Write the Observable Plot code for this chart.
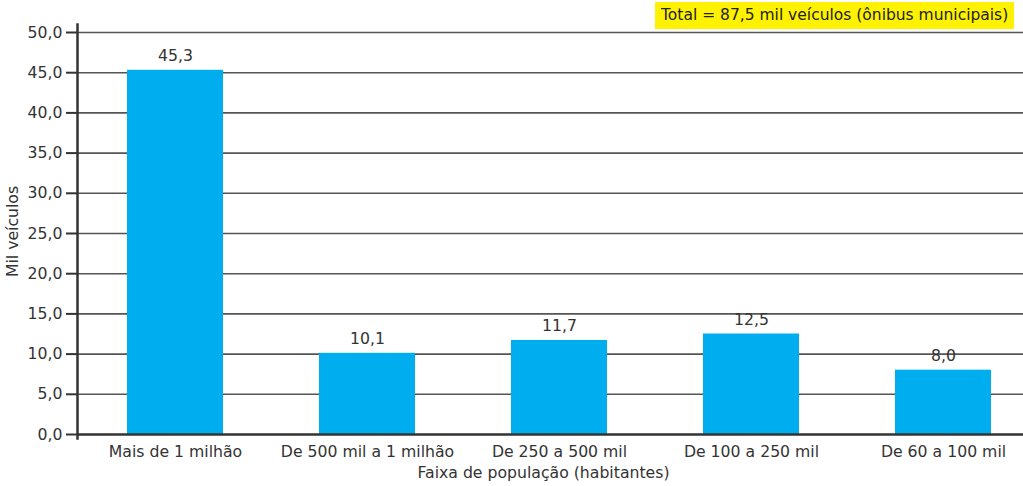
<!DOCTYPE html>
<html>
<head>
<meta charset="utf-8">
<script src="https://cdn.jsdelivr.net/npm/d3@7"></script>
<script src="https://cdn.jsdelivr.net/npm/@observablehq/plot@0.6"></script>
<style>
  html, body { margin: 0; padding: 0; background: #fff; }
  #wrap { position: relative; width: 1023px; height: 486px; font-family: "DejaVu Sans", sans-serif; }
  #total { position: absolute; left: 655px; top: 2px; height: 27px; line-height: 27px; padding: 0 6px;
           background: #fff200; color: #222; font-size: 15.5px; white-space: nowrap; }
</style>
</head>
<body>
<div id="wrap"><div id="total"></div></div>
<script>
const categories = ["Mais de 1 milhão", "De 500 mil a 1 milhão", "De 250 a 500 mil", "De 100 a 250 mil", "De 60 a 100 mil"];
const values = [45.3, 10.1, 11.7, 12.5, 8.0];
const yTicks = [0, 5, 10, 15, 20, 25, 30, 35, 40, 45, 50];
const yLabel = "Mil veículos";
const xLabel = "Faixa de população (habitantes)";
const totalNote = "Total = 87,5 mil veículos (ônibus municipais)";

const data = categories.map((c, i) => ({category: c, value: values[i]}));
const fmt = d => d.toFixed(1).replace(".", ",");

const chart = Plot.plot({
  width: 1023,
  height: 486,
  marginLeft: 77,
  marginRight: 0,
  marginTop: 24,
  marginBottom: 48,
  style: {fontFamily: "DejaVu Sans, sans-serif", fontSize: "15.7px", color: "#333", background: "#fff"},
  x: {domain: categories, range: [77.25, 1040], paddingInner: 0.5, paddingOuter: 0.25, label: null},
  y: {domain: [0, 50], range: [434, 32], label: null},
  marks: [
    Plot.ruleY(yTicks.filter(d => d > 0), {stroke: "#555", strokeWidth: 1.6}),
    Plot.barY(data, {x: "category", y: "value", fill: "#00aeef"}),
    Plot.text(data, {x: "category", y: "value", text: d => fmt(d.value), dy: -14, fill: "#333", fontSize: 15.7}),
    Plot.axisY({ticks: yTicks, tickFormat: fmt, tickSize: 11, tickPadding: 4, stroke: "#333", strokeWidth: 2, label: null, fontSize: 15.7}),
    Plot.axisX({tickSize: 0, tickPadding: 7, label: null, fontSize: 15.7}),
    Plot.ruleY([0], {stroke: "#333", strokeWidth: 2.5}),
    Plot.frame({anchor: "left", stroke: "#333", strokeWidth: 2.5}),
    Plot.text([yLabel], {frameAnchor: "left", textAnchor: "middle", dx: -65, rotate: -90, fill: "#333", fontSize: 15.7}),
    Plot.text([xLabel], {frameAnchor: "bottom", dx: -7, dy: 39, fill: "#333", fontSize: 15.7})
  ]
});
document.getElementById("wrap").prepend(chart);
document.getElementById("total").textContent = totalNote;
</script>
</body>
</html>
